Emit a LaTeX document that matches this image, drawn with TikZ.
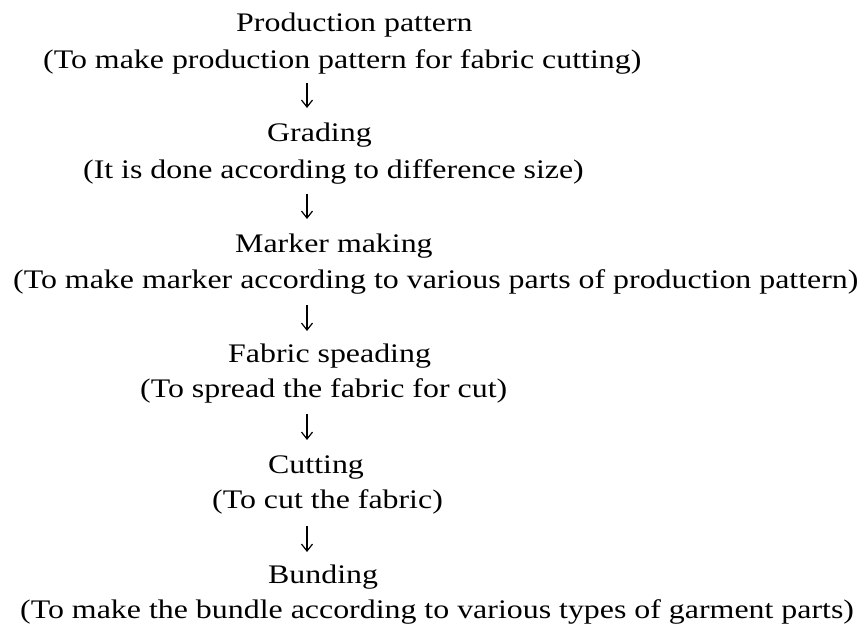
\documentclass[tikz,border=0pt]{standalone}
\usepackage{fontspec}
\setmainfont[FakeStretch=1.19]{Liberation Serif}
\usepackage{tikz}
\usetikzlibrary{arrows.meta,positioning}

\begin{document}
\begin{tikzpicture}[x=1pt, y=-1pt,
    stage_text/.style={anchor=base west, inner sep=0pt,
      font=\fontsize{26.8pt}{32pt}\selectfont},
    flow/.style={line width=1.2pt, -{Straight Barb[length=7pt, width=11pt]}}
  ]
  \useasboundingbox (0,0) rectangle (864,626);

  % --- Stages ---
  \node[stage_text] (prod) at (236,32) {Production pattern};
  \node[stage_text] (prod_note) at (43,68) {(To make production pattern for fabric cutting)};
  \node[stage_text] (grade) at (267,141) {Grading};
  \node[stage_text] (grade_note) at (83,178) {(It is done according to difference size)};
  \node[stage_text] (marker) at (235,252) {Marker making};
  \node[stage_text] (marker_note) at (13,288) {(To make marker according to various parts of production pattern)};
  \node[stage_text] (spread) at (228,362) {Fabric speading};
  \node[stage_text] (spread_note) at (140,397) {(To spread the fabric for cut)};
  \node[stage_text] (cut) at (268,473) {Cutting};
  \node[stage_text] (cut_note) at (212,508) {(To cut the fabric)};
  \node[stage_text] (bundle) at (268,583) {Bunding};
  \node[stage_text] (bundle_note) at (20,618) {(To make the bundle according to various types of garment parts)};

  % --- Arrow ends ---
  \coordinate (a1_top) at (307,83);
  \coordinate (a1_bot) at (307,108);
  \coordinate (a2_top) at (307,194);
  \coordinate (a2_bot) at (307,219);
  \coordinate (a3_top) at (307,305);
  \coordinate (a3_bot) at (307,331);
  \coordinate (a4_top) at (307,414);
  \coordinate (a4_bot) at (307,440);
  \coordinate (a5_top) at (307,526);
  \coordinate (a5_bot) at (307,552);

  % --- Arrows ---
  \draw[flow] (a1_top) -- (a1_bot);
  \draw[flow] (a2_top) -- (a2_bot);
  \draw[flow] (a3_top) -- (a3_bot);
  \draw[flow] (a4_top) -- (a4_bot);
  \draw[flow] (a5_top) -- (a5_bot);
\end{tikzpicture}
\end{document}
